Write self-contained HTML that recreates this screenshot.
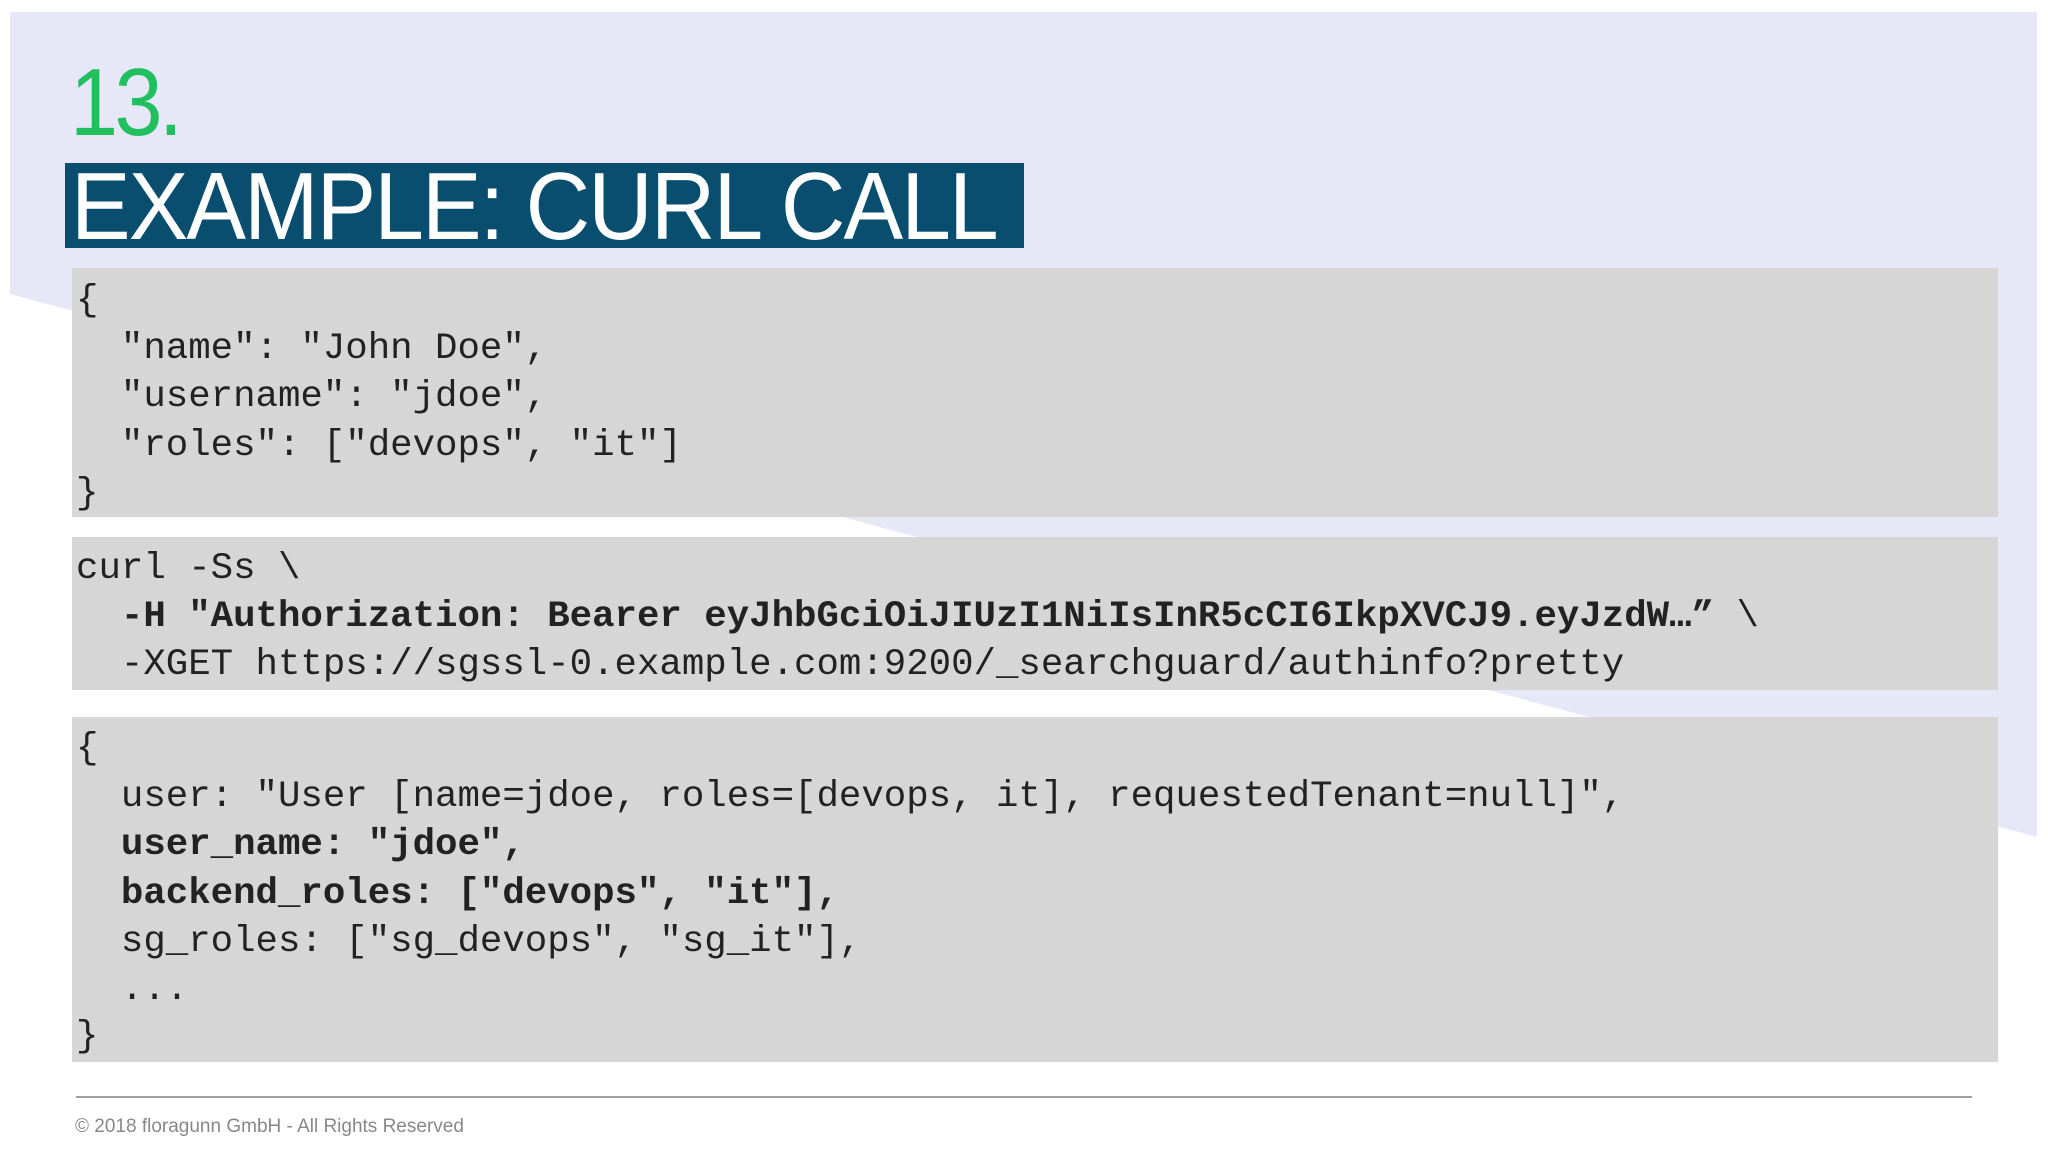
<!DOCTYPE html>
<html><head><meta charset="utf-8"><style>
html,body{margin:0;padding:0;background:#fff;}
body{width:2048px;height:1152px;position:relative;overflow:hidden;}
.bg{position:absolute;left:0;top:0;}
.num{position:absolute;left:70px;top:48px;font-family:"Liberation Sans",sans-serif;font-size:96px;color:#22bf5e;font-weight:normal;line-height:110px;letter-spacing:-4px;transform:scaleX(0.9);transform-origin:left top;}
.title{position:absolute;left:65px;top:163px;width:959px;height:85px;background:#0a4e6f;}
.title span{position:absolute;left:6px;top:-4px;font-family:"Liberation Sans",sans-serif;font-size:96px;color:#fff;line-height:96px;white-space:nowrap;letter-spacing:-2px;transform:scaleX(0.93);transform-origin:left top;}
.box{position:absolute;left:72px;width:1926px;background:#d6d6d6;}
.l{position:absolute;left:76px;font-family:"Liberation Mono",monospace;font-size:37.4px;line-height:48px;color:#222;white-space:pre;}
.b{font-weight:bold;}
.hr{position:absolute;left:76px;top:1096px;width:1896px;height:2px;background:#a0a0a0;}
.foot{position:absolute;left:75px;top:1116px;font-family:"Liberation Sans",sans-serif;font-size:19px;color:#888;}
</style></head><body>
<svg class="bg" width="2048" height="1152"><polygon points="10,12 2037,12 2037,837 10,294" fill="#e6e8f8"/></svg>
<div class="num">13.</div>
<div class="title"><span>EXAMPLE: CURL CALL</span></div>
<div class="box" style="top:268px;height:249px"></div>
<div class="box" style="top:537px;height:153px"></div>
<div class="box" style="top:717px;height:345px"></div>
<div class="l" style="top:277px">{</div>
<div class="l" style="top:325px">  "name": "John Doe",</div>
<div class="l" style="top:373px">  "username": "jdoe",</div>
<div class="l" style="top:422px">  "roles": ["devops", "it"]</div>
<div class="l" style="top:470px">}</div>
<div class="l" style="top:545px">curl -Ss \</div>
<div class="l" style="top:593px">  <span class="b">-H "Authorization: Bearer eyJhbGciOiJIUzI1NiIsInR5cCI6IkpXVCJ9.eyJzdW…”</span> \</div>
<div class="l" style="top:641px">  -XGET https://sgssl-0.example.com:9200/_searchguard/authinfo?pretty</div>
<div class="l" style="top:725px">{</div>
<div class="l" style="top:773px">  user: "User [name=jdoe, roles=[devops, it], requestedTenant=null]",</div>
<div class="l b" style="top:821px">  user_name: "jdoe",</div>
<div class="l b" style="top:870px">  backend_roles: ["devops", "it"],</div>
<div class="l" style="top:918px">  sg_roles: ["sg_devops", "sg_it"],</div>
<div class="l" style="top:966px">  ...</div>
<div class="l" style="top:1013px">}</div>
<div class="hr"></div>
<div class="foot">© 2018 floragunn GmbH - All Rights Reserved</div>
</body></html>
